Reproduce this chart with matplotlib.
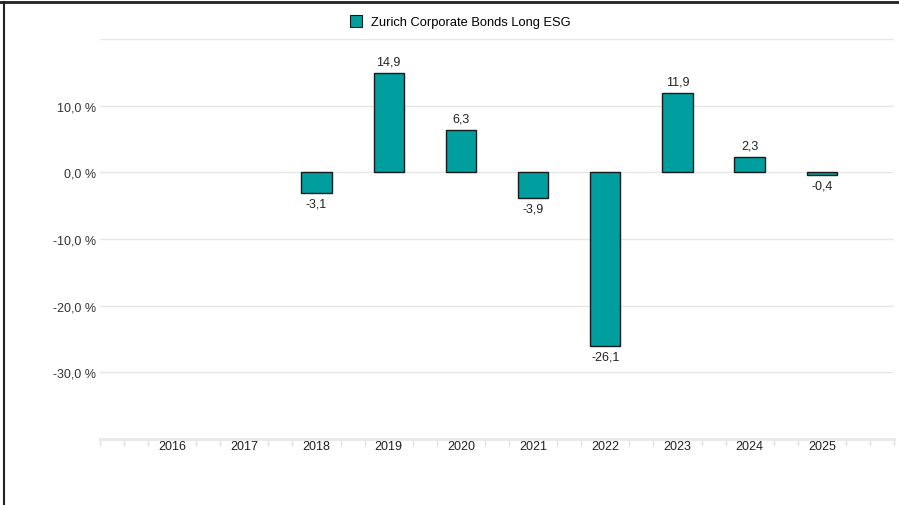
import numpy as np
import matplotlib.pyplot as plt
from matplotlib.lines import Line2D

plt.rcParams['font.family'] = ['Liberation Sans', 'DejaVu Sans']

years = ['2016', '2017', '2018', '2019', '2020', '2021', '2022', '2023', '2024', '2025']
returns = [np.nan, np.nan, -3.1, 14.9, 6.3, -3.9, -26.1, 11.9, 2.3, -0.4]
series_name = 'Zurich Corporate Bonds Long ESG'
y_ticks = [10, 0, -10, -20, -30]

teal = '#009e9e'
W, H = 899, 506

fig = plt.figure(figsize=(W / 100, H / 100), dpi=100)
ax = fig.add_axes([100 / W, 1 - 440 / H, 794 / W, 400 / H])

x = np.arange(len(years))
ax.bar(x, returns, width=0.42, color=teal, edgecolor='#1a1a1a', linewidth=1.0, zorder=3)

# value labels
for xi, v in zip(x, returns):
    if np.isnan(v):
        continue
    label = f'{v:.1f}'.replace('.', ',')
    if v >= 0:
        ax.annotate(label, (xi, v), xytext=(0, 4), textcoords='offset points',
                    ha='center', va='bottom', fontsize=9, color='#222222')
    else:
        ax.annotate(label, (xi, v), xytext=(0, -3), textcoords='offset points',
                    ha='center', va='top', fontsize=9, color='#222222')

ax.set_xlim(-1, len(years))
ax.set_ylim(-40, 20)

# horizontal grid lines
for g in [20] + y_ticks:
    ax.axhline(g, color='#e6e6e6', linewidth=1.0, zorder=1)

ax.set_yticks(y_ticks)
ax.set_yticklabels([f'{t:.1f} %'.replace('.', ',') for t in y_ticks])
ax.tick_params(axis='y', length=0, pad=3, labelsize=9, labelcolor='#333333')

ax.set_xticks(x)
ax.set_xticklabels(years)
minor = [i / 3 for i in range(-3, 3 * len(years) + 1) if i % 3 != 0]
minor.append(-1)
minor.append(len(years))
ax.set_xticks(minor, minor=True)
ax.tick_params(axis='x', which='major', length=0, pad=1, labelsize=9, labelcolor='#222222')
ax.tick_params(axis='x', which='minor', length=5, width=1, color='#e0e0e0', direction='out')

for s in ['top', 'right', 'left']:
    ax.spines[s].set_visible(False)
ax.spines['bottom'].set_color('#e8e8e8')
ax.spines['bottom'].set_linewidth(2)

handle = Line2D([], [], marker='s', linestyle='none', markersize=9,
                markerfacecolor=teal, markeredgecolor='#1a1a1a', markeredgewidth=0.8)
fig.legend([handle], [series_name], loc='center', bbox_to_anchor=(457 / W, 1 - 23 / H),
           frameon=False, fontsize=9.3, handletextpad=0.2, borderpad=0)

# outer frame lines (top and left)
fig.add_artist(Line2D([0, 1], [1 - 3 / H, 1 - 3 / H], transform=fig.transFigure, color='#222222', linewidth=2))
fig.add_artist(Line2D([4 / W, 4 / W], [0, 1 - 3 / H], transform=fig.transFigure, color='#222222', linewidth=1.5))

fig.savefig('out.png', dpi=100)
